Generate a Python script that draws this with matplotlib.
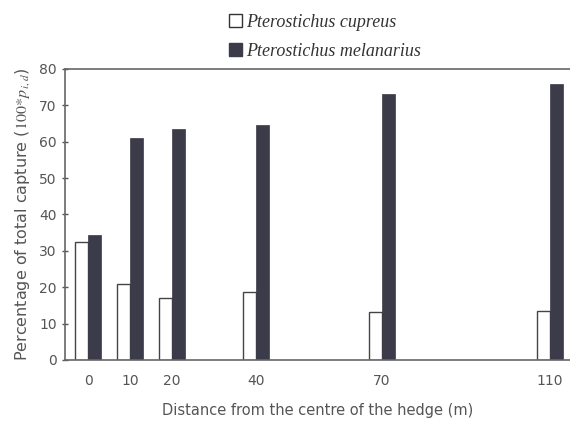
import matplotlib
matplotlib.use("Agg")
import matplotlib.pyplot as plt
from matplotlib.patches import Patch

# distances from the hedge centre (m)
distance = [0, 10, 20, 40, 70, 110]
cupreus = [32.5, 20.8, 17.1, 18.6, 13.1, 13.5]
melanarius = [34.4, 61.0, 63.6, 64.5, 73.2, 75.9]
yticks = [0, 10, 20, 30, 40, 50, 60, 70, 80]

plt.rcParams['mathtext.fontset'] = 'stix'
grey = '#555555'
dark = '#3b3b4a'

fig = plt.figure(figsize=(5.7, 4.23), dpi=100)
ax = fig.add_axes([0.114, 0.149, 0.886, 0.688])

w = 3.1
ax.bar([d - w / 2 for d in distance], cupreus, width=w, color='white',
       edgecolor='#444444', linewidth=1.0)
ax.bar([d + w / 2 for d in distance], melanarius, width=w, color=dark,
       edgecolor=dark, linewidth=0.5)

ax.set_xlim(-5.5, 114.8)
ax.set_ylim(0, 80)
ax.set_yticks(yticks)
ax.set_xticks(distance)
ax.tick_params(axis='y', direction='inout', length=5, color=grey,
               labelcolor=grey, labelsize=10, width=1)
ax.tick_params(axis='x', length=0, pad=10, labelcolor=grey, labelsize=10)
ax.spines['right'].set_visible(False)
for s in ['left', 'top', 'bottom']:
    ax.spines[s].set_color('#666666')
    ax.spines[s].set_linewidth(1.2)

ax.set_xlabel('Distance from the centre of the hedge (m)', color=grey,
              fontsize=10.5, labelpad=11)
ax.set_ylabel(r'Percentage of total capture ($\mathit{100{*}p}_{\,\mathit{i,d}}$)',
              color=grey, fontsize=11.5, labelpad=5)

handles = [Patch(facecolor='white', edgecolor='#333333', linewidth=1.0),
           Patch(facecolor=dark, edgecolor=dark)]
fig.legend(handles, ['Pterostichus cupreus', 'Pterostichus melanarius'],
           loc='upper left', bbox_to_anchor=(0.374, 1.005), frameon=False,
           prop={'family': 'Liberation Serif', 'style': 'italic', 'size': 13},
           handlelength=0.7, handleheight=0.7, handletextpad=0.2,
           labelspacing=0.65, labelcolor='#333333')

fig.savefig('out.png', dpi=100)
